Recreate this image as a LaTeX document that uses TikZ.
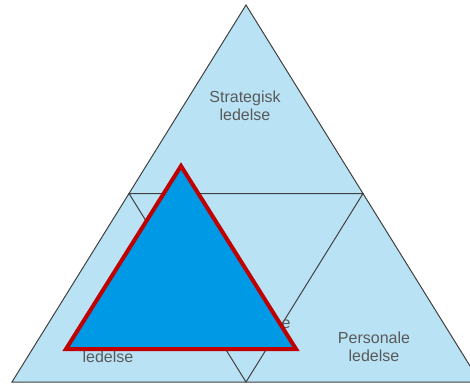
\documentclass[tikz,border=0pt]{standalone}
\usepackage{fontspec}
\setmainfont{Liberation Sans}
\definecolor{paleblue}{HTML}{B9E3F5}
\definecolor{deepblue}{HTML}{0099E5}
\definecolor{redline}{HTML}{C00000}
\definecolor{gridgray}{HTML}{404040}
\definecolor{textgray}{HTML}{595959}
\tikzset{
  gridline/.style={draw=gridgray, line width=1pt, line join=miter},
  label/.style={text=textgray, font=\fontsize{16}{18.5}\selectfont, align=center, inner sep=0pt},
  redtri/.style={fill=deepblue, draw=redline, line width=4pt, line join=miter}
}
\begin{document}
\begin{tikzpicture}[x=1pt,y=-1pt]
\useasboundingbox (0,0) rectangle (470,383);
\clip (0,0) rectangle (470,383);
\coordinate (A) at (246,5);
\coordinate (L) at (12,382);
\coordinate (R) at (480,382);
\coordinate (ML) at (129,193.5);
\coordinate (MR) at (363,193.5);
\coordinate (MB) at (246,382);
\fill[paleblue] (A) -- (L) -- (R) -- cycle;
\draw[gridline] (A) -- (L) -- (R) -- cycle;
\draw[gridline] (ML) -- (MR) -- (MB) -- cycle;
\node[label] (strat) at (245,106) {Strategisk\\ledelse};
\node[label] (pers) at (374,347) {Personale\\ledelse};
\node[label, anchor=base] (left) at (108,362) {ledelse};
\node[label, anchor=base] (mid) at (286,328) {e};
\coordinate (T1) at (181,166);
\coordinate (T2) at (66,349);
\coordinate (T3) at (296,349);
\filldraw[redtri] (T1) -- (T2) -- (T3) -- cycle;
\end{tikzpicture}
\end{document}
